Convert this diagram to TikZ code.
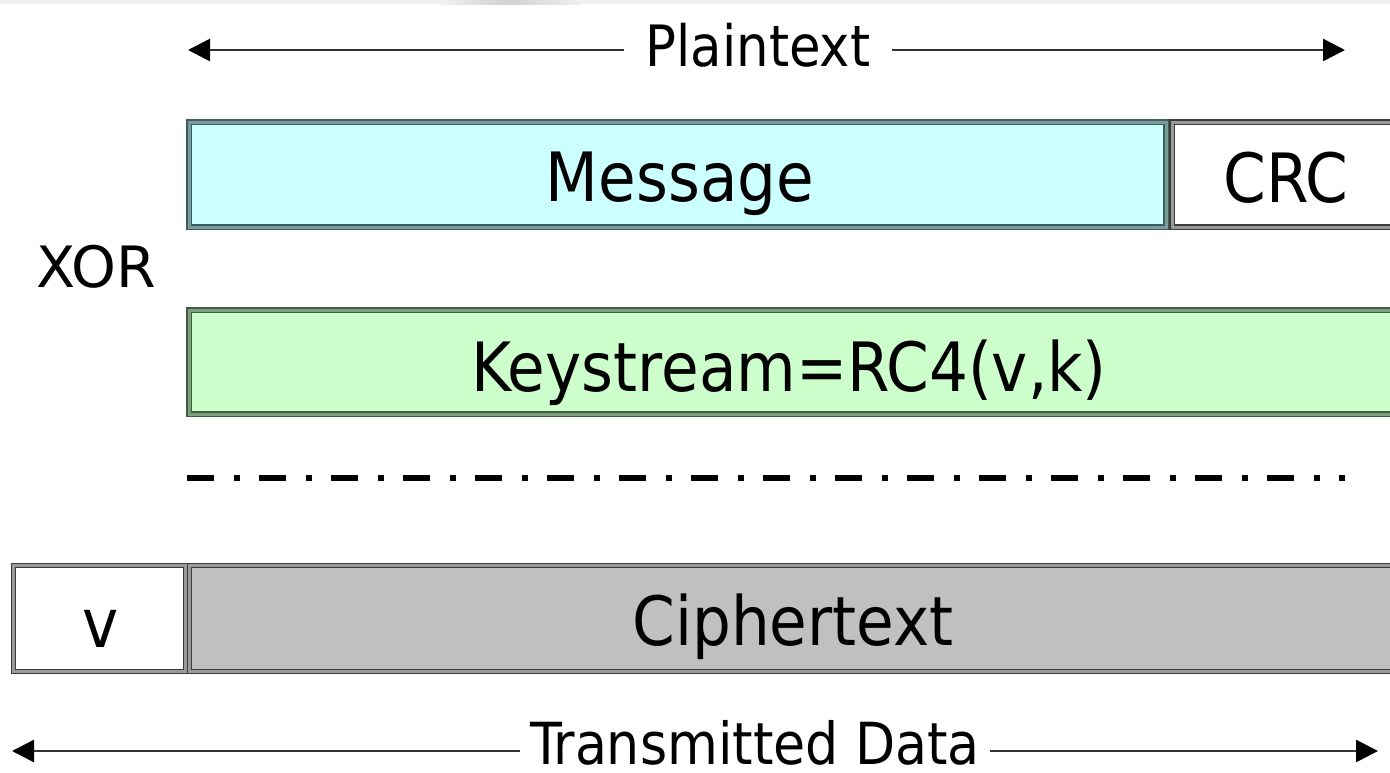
\documentclass[tikz,border=0pt]{standalone}
\usepackage{fontspec}
\setmainfont{DejaVu Sans Condensed}
\newfontfamily\widefont{DejaVu Sans}
\usetikzlibrary{arrows.meta}
\definecolor{msgfill}{HTML}{CCFFFF}
\definecolor{msgline}{HTML}{3E5C5C}
\definecolor{msgband}{HTML}{7A9C9C}
\definecolor{keyfill}{HTML}{CCFFCC}
\definecolor{keyline}{HTML}{3E5C3E}
\definecolor{keyband}{HTML}{7F9F7F}
\definecolor{grayline}{HTML}{3C3C3C}
\definecolor{grayband}{HTML}{9A9A9A}
\definecolor{cipherfill}{HTML}{C0C0C0}
\definecolor{stripcol}{HTML}{EEF1EF}
\definecolor{arrline}{HTML}{333333}
\tikzset{
  box/.style={rectangle, inner sep=0pt, outer sep=0pt, anchor=north west,
    line width=1.1pt, double distance=3pt},
  msgbox/.style={box, draw=msgline, double=msgband, fill=msgfill},
  keybox/.style={box, draw=keyline, double=keyband, fill=keyfill},
  whitebox/.style={box, draw=grayline, double=grayband, fill=white},
  cipherbox/.style={box, draw=grayline, double=grayband, fill=cipherfill},
  biglab/.style={anchor=base, inner sep=0pt, font=\fontsize{68}{72}\selectfont},
  smalllab/.style={anchor=base, inner ysep=0pt, font=\fontsize{57}{60}\selectfont},
  arr/.style={draw=arrline, line width=2.6pt, -{Triangle[length=22pt,width=22pt]}, arrows={[color=black]}},
  dashdotline/.style={line width=6pt, dash pattern=on 27pt off 20pt on 6pt off 19pt}
}
\begin{document}
\begin{tikzpicture}[x=1pt,y=-1pt]
\useasboundingbox (0,0) rectangle (1390,772);
\clip (0,0) rectangle (1390,772);
% top strip
\fill[stripcol] (0,0) rectangle (1390,4);
\shade[left color=stripcol, right color=stripcol, middle color=black!18] (440,0) rectangle (580,4);

% Plaintext arrow
\node[smalllab, inner xsep=22pt] (pt) at (758,66) {Plaintext};
\coordinate (ptl) at (188,50);
\coordinate (ptr) at (1345,50);
\draw[arr] (pt.west |- ptl) -- (ptl);
\draw[arr] (pt.east |- ptr) -- (ptr);

% Message / CRC
\node[msgbox, minimum width=977pt, minimum height=105pt] (msg) at (189,122) {};
\node[whitebox, minimum width=231pt, minimum height=105pt] (crc) at (1172,122) {};
\node[biglab] (msgt) at (680,201) {Message};
\node[biglab] (crct) at (1286,202) {CRC};

% XOR
\node[anchor=base, inner sep=0pt, font=\widefont\fontsize{57}{60}\selectfont] (xor) at (96,287) {XOR};

% Keystream
\node[keybox, minimum width=1206pt, minimum height=104pt] (key) at (189,310) {};
\node[biglab] (keyt) at (789,391) {Keystream=RC4(v,k)};

% dash-dot line
\coordinate (dl) at (187,478);
\coordinate (dr) at (1344.5,478);
\draw[dashdotline] (dl) -- (dr);

% v / Ciphertext
\node[whitebox, minimum width=172pt, minimum height=106pt] (v) at (13.5,565.5) {};
\node[cipherbox, minimum width=1214pt, minimum height=106pt] (ct) at (189.5,565.5) {};
\node[biglab] (vt) at (101,647) {v};
\node[biglab] (ctt) at (793,645) {Ciphertext};

% Transmitted Data arrow
\node[smalllab, inner xsep=10pt, font=\fontsize{58}{60}\selectfont] (td) at (755,764) {Transmitted Data};
\coordinate (tdl) at (12,751);
\coordinate (tdr) at (1378,751);
\draw[arr] (td.west |- tdl) -- (tdl);
\draw[arr] (td.east |- tdr) -- (tdr);
\end{tikzpicture}
\end{document}
